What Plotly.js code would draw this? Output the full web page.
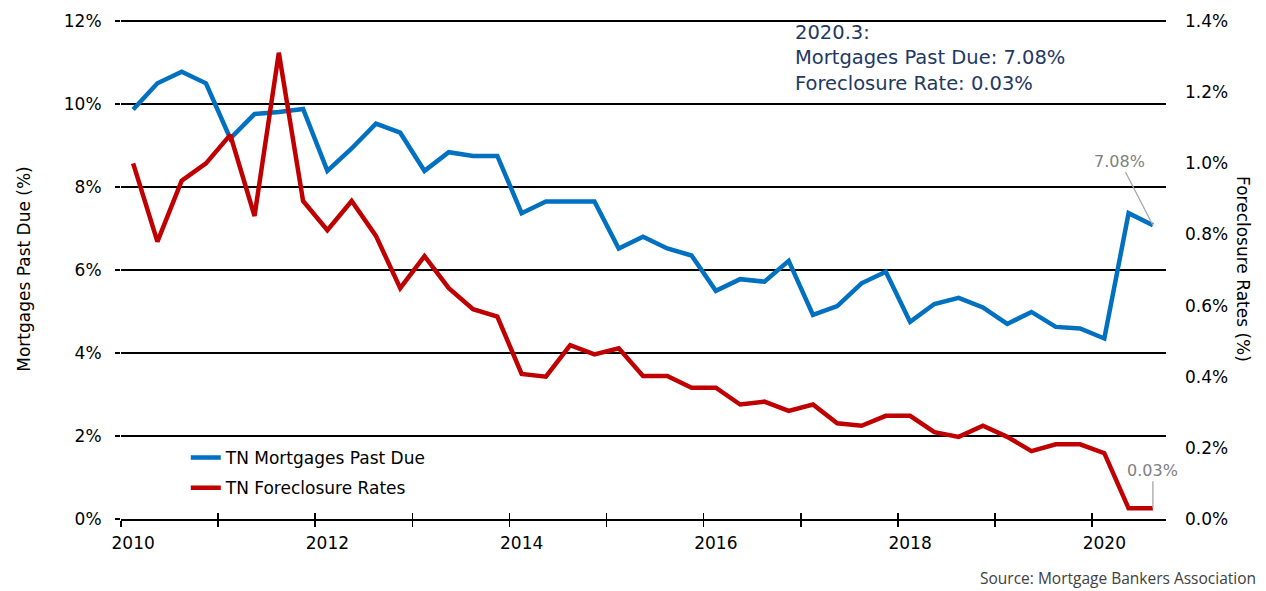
<!DOCTYPE html>
<html><head><meta charset="utf-8">
<script src="https://cdn.plot.ly/plotly-3.0.1.min.js"></script>
<style>html,body{margin:0;padding:0;background:#fff}</style>
</head><body><div id="chart" style="width:1266px;height:591px"></div>
<script>
// Quarterly categories 2010Q1 .. 2020Q3
const quarters = ["2010Q1","2010Q2","2010Q3","2010Q4","2011Q1","2011Q2","2011Q3","2011Q4",
  "2012Q1","2012Q2","2012Q3","2012Q4","2013Q1","2013Q2","2013Q3","2013Q4",
  "2014Q1","2014Q2","2014Q3","2014Q4","2015Q1","2015Q2","2015Q3","2015Q4",
  "2016Q1","2016Q2","2016Q3","2016Q4","2017Q1","2017Q2","2017Q3","2017Q4",
  "2018Q1","2018Q2","2018Q3","2018Q4","2019Q1","2019Q2","2019Q3","2019Q4",
  "2020Q1","2020Q2","2020Q3"];
// TN Mortgages Past Due (%), left axis
const pastDue = [9.87,10.50,10.78,10.50,9.17,9.76,9.81,9.88,8.39,8.93,9.53,9.31,
  8.39,8.84,8.75,8.75,7.37,7.65,7.65,7.65,6.52,6.80,6.52,6.35,5.50,5.78,5.72,6.22,
  4.92,5.13,5.68,5.96,4.75,5.18,5.33,5.10,4.70,4.99,4.63,4.59,4.35,7.37,7.08];
// TN Foreclosure Rates (%), right axis
const foreclosure = [1.000,0.780,0.951,1.000,1.080,0.852,1.311,0.894,0.812,0.894,0.796,0.649,
  0.739,0.649,0.590,0.569,0.408,0.400,0.489,0.463,0.480,0.402,0.402,0.369,0.369,0.322,0.330,0.304,
  0.322,0.269,0.262,0.290,0.290,0.244,0.231,0.262,0.231,0.191,0.210,0.210,0.185,0.030,0.030];
const tickYears = [2010,2011,2012,2013,2014,2015,2016,2017,2018,2019,2020];
const labelYears = [2010,2012,2014,2016,2018,2020];
const leftTicks = [0,2,4,6,8,10,12];
const rightTicks = [0,0.2,0.4,0.6,0.8,1.0,1.2,1.4];

// position each quarter at the middle of its first month-range (Excel-style date axis)
const xPos = quarters.map(q => {
  const yr = parseInt(q.slice(0,4),10), qn = parseInt(q.slice(5),10);
  return yr + (qn-1)*0.25 + 0.125;
});

const FONT = "DejaVu Sans, sans-serif";
const XR = [2010, 2020.76];
const YTOP = 12.05;               // tiny headroom so the 12% gridline is drawn
const Y2TOP = 1.4 * YTOP / 12;

const traces = [
  {x: xPos, y: pastDue, type:'scatter', mode:'lines', name:'TN Mortgages Past Due',
   line:{color:'#0070C0', width:4.5}, xaxis:'x', yaxis:'y', legendgroup:'a'},
  {x: xPos, y: foreclosure, type:'scatter', mode:'lines', name:'TN Foreclosure Rates',
   line:{color:'#C00000', width:4.5}, xaxis:'x', yaxis:'y2', legendgroup:'b'},
  {x: [], y: [], type:'scatter', mode:'lines', xaxis:'x2', yaxis:'y', showlegend:false, hoverinfo:'skip'},
  {x: [], y: [], type:'scatter', mode:'lines', xaxis:'x3', yaxis:'y', showlegend:false, hoverinfo:'skip'}
];

const lastI = quarters.length - 1;
const layout = {
  width:1266, height:591,
  margin:{l:121, r:100, t:19, b:72},
  paper_bgcolor:'#fff', plot_bgcolor:'#fff',
  font:{family:FONT, size:17, color:'#000'},
  showlegend:true,
  legend:{x:0.062, y:0.158, xanchor:'left', yanchor:'top', bgcolor:'rgba(0,0,0,0)',
    font:{family:FONT, size:17, color:'#000'}, traceorder:'grouped', tracegroupgap:5},
  xaxis:{range:XR, tickmode:'array', tickvals:tickYears, ticktext:tickYears.map(()=>''),
    ticks:'outside', ticklen:6, tickwidth:1.5, tickcolor:'#000',
    showline:true, linecolor:'#000', linewidth:2, showgrid:false, zeroline:false,
    anchor:'y'},
  xaxis2:{range:XR, overlaying:'x', anchor:'y', side:'bottom', tickmode:'array', tickvals:tickYears,
    ticks:'inside', ticklen:6, tickwidth:1.5, tickcolor:'#000', showticklabels:false,
    showgrid:false, zeroline:false, showline:false},
  xaxis3:{range:XR, overlaying:'x', anchor:'y', side:'bottom', tickmode:'array',
    tickvals:labelYears.map(y=>y+0.125), ticktext:labelYears.map(String),
    ticks:'', ticklabelstandoff:12, showgrid:false, zeroline:false, showline:false,
    tickfont:{family:FONT, size:17, color:'#000'}},
  yaxis:{range:[0,YTOP], tickmode:'array', tickvals:leftTicks, ticktext:leftTicks.map(v=>v+'%'),
    showgrid:true, gridcolor:'#000', gridwidth:1.5, zeroline:false,
    ticks:'outside', ticklen:5, tickwidth:1.5, tickcolor:'#000', ticklabelstandoff:10,
    tickfont:{family:FONT, size:17, color:'#000'},
    title:{text:'Mortgages Past Due (%)', font:{family:FONT, size:17, color:'#000'}, standoff:28}},
  yaxis2:{range:[0,Y2TOP], overlaying:'y', side:'right', anchor:'x', tickmode:'array', tickvals:rightTicks,
    ticktext:rightTicks.map(v=>v.toFixed(1)+'%'), showgrid:false, zeroline:false, ticks:'',
    ticklabelstandoff:18, tickfont:{family:FONT, size:17, color:'#000'}},
  annotations:[
    {xref:'paper', yref:'paper', x:0.643, y:1.0, xanchor:'left', yanchor:'top', align:'left',
     showarrow:false,
     text: quarters[lastI].replace('Q','.') + ':<br>Mortgages Past Due: ' + pastDue[lastI].toFixed(2) +
           '%<br>Foreclosure Rate: ' + foreclosure[lastI].toFixed(2) + '%',
     font:{family:FONT, size:19.5, color:'#1F3864'}},
    {x: xPos[lastI], y: pastDue[lastI], xref:'x', yref:'y', text: pastDue[lastI].toFixed(2)+'%',
     showarrow:true, arrowhead:0, arrowwidth:1.3, arrowcolor:'#A6A6A6', ax:-33, ay:-64,
     font:{family:FONT, size:16, color:'#7F7F7F'}},
    {x: xPos[lastI], y: foreclosure[lastI], xref:'x', yref:'y2', text: foreclosure[lastI].toFixed(2)+'%',
     showarrow:true, arrowhead:0, arrowwidth:1.3, arrowcolor:'#A6A6A6', ax:0, ay:-38,
     font:{family:FONT, size:16, color:'#7F7F7F'}},
    {xref:'paper', yref:'paper', x:1.0737, y:0.5, xanchor:'center', yanchor:'middle', textangle:90,
     showarrow:false, text:'Foreclosure Rates (%)', font:{family:FONT, size:17, color:'#000'}},
    {xref:'paper', yref:'paper', x:1.088, y:-0.118, xanchor:'right', yanchor:'middle',
     showarrow:false, text:'Source: Mortgage Bankers Association',
     font:{family:'Open Sans, sans-serif', size:15.5, color:'#404040'}}
  ]
};

Plotly.newPlot('chart', traces, layout, {displayModeBar:false, staticPlot:true});
</script>
</body></html>
